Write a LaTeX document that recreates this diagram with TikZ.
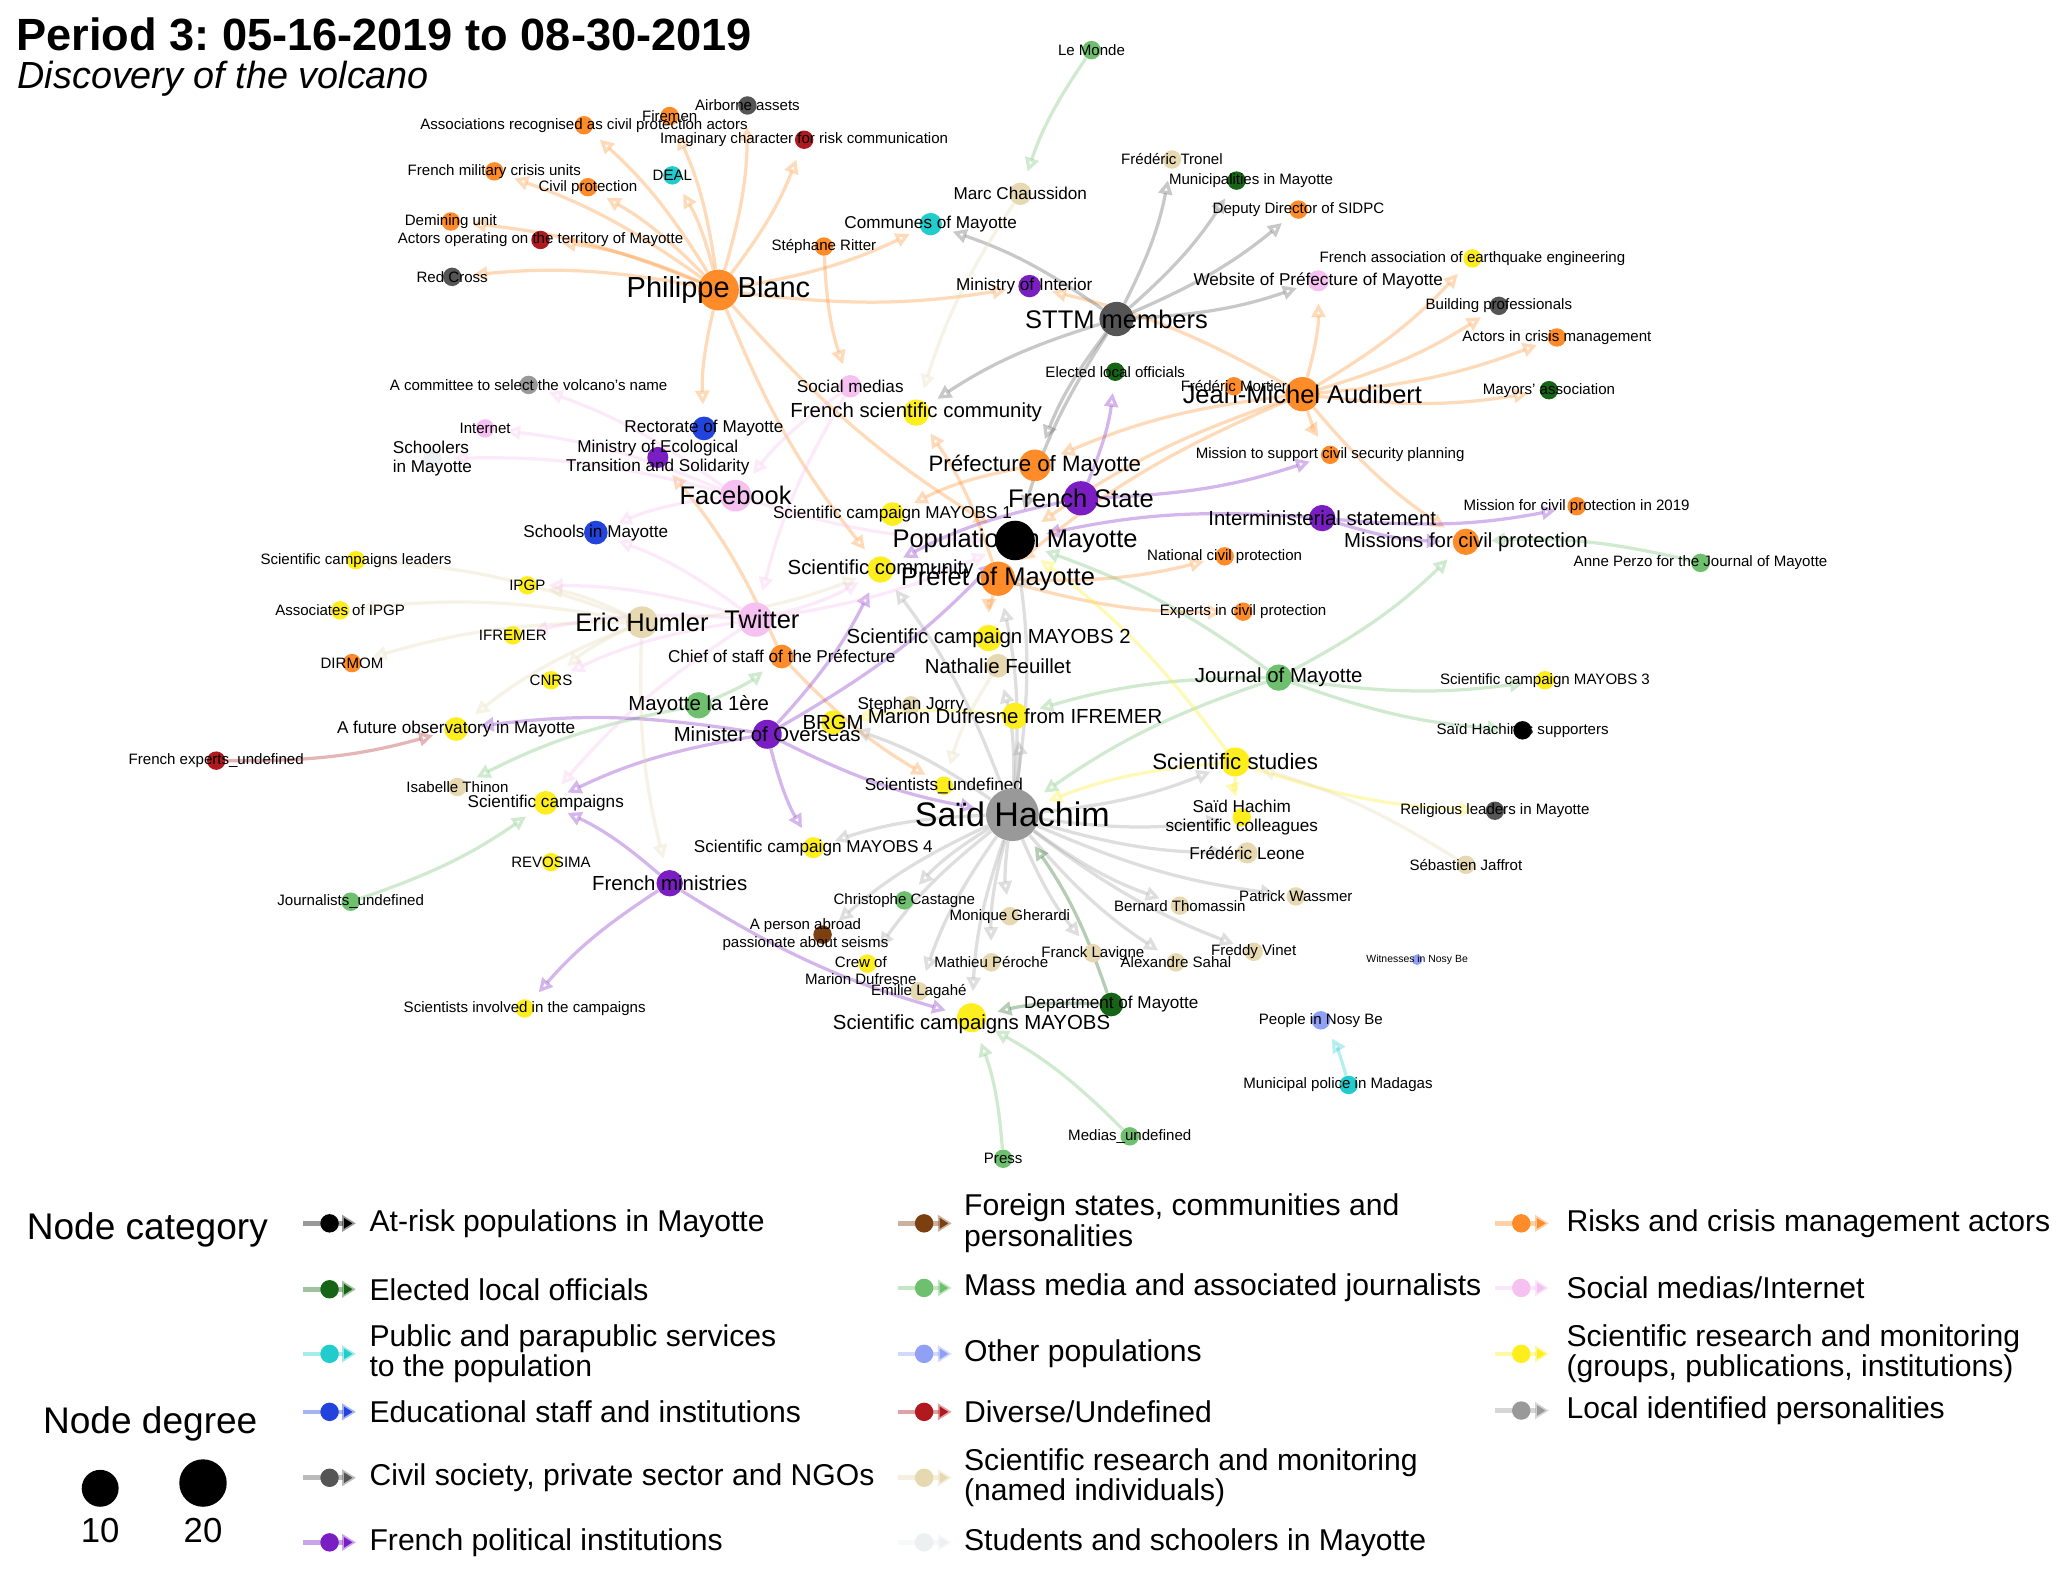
\documentclass[tikz,border=0pt]{standalone}
\usepackage{fontspec}
\setmainfont{Liberation Sans}
\usetikzlibrary{arrows.meta,backgrounds}
\frenchspacing

\definecolor{cblack}{RGB}{0,0,0}
\definecolor{celected}{RGB}{22,100,22}
\definecolor{cpublic}{RGB}{34,204,204}
\definecolor{cedu}{RGB}{34,68,221}
\definecolor{ccivil}{RGB}{85,85,85}
\definecolor{cpol}{RGB}{122,30,196}
\definecolor{cforeign}{RGB}{123,63,16}
\definecolor{cmedia}{RGB}{110,192,110}
\definecolor{cother}{RGB}{143,160,245}
\definecolor{cdiverse}{RGB}{176,26,30}
\definecolor{cscinamed}{RGB}{230,216,176}
\definecolor{cstudent}{RGB}{236,240,240}
\definecolor{crisk}{RGB}{255,140,40}
\definecolor{csocial}{RGB}{246,192,240}
\definecolor{cscigroup}{RGB}{255,238,30}
\definecolor{clocal}{RGB}{153,153,153}

\tikzset{
  nd/.style={circle, fill=#1, draw=none, inner sep=0pt, minimum size=2.8mm},
  ed/.style={draw=#1, draw opacity=0.32, line width=1.4pt, shorten >=5pt, bend right=8,
    -{Triangle[open, length=6pt, width=6pt]}},
  keyln/.style={draw=#1, draw opacity=0.4, line width=2pt, -{Triangle[length=6pt, width=7pt]}},
  lbtiny/.style={inner sep=0pt, font=\fontsize{4.5}{5}\selectfont},
  lbs/.style={inner sep=0pt, font=\fontsize{6.5}{7.4}\selectfont},
  lbsm/.style={inner sep=0pt, font=\fontsize{7.4}{8.2}\selectfont},
  lbm/.style={inner sep=0pt, font=\fontsize{8.8}{9.6}\selectfont},
  lbmm/.style={inner sep=0pt, font=\fontsize{9.6}{10.4}\selectfont},
  lbl/.style={inner sep=0pt, font=\fontsize{11}{12}\selectfont},
  lbxl/.style={inner sep=0pt, font=\fontsize{12.5}{13.5}\selectfont},
  lbxxl/.style={inner sep=0pt, font=\fontsize{14.7}{15.5}\selectfont},
  lgtxt/.style={anchor=west, inner sep=0pt, align=left, font=\fontsize{13}{11.5}\selectfont},
  lghead/.style={inner sep=0pt, font=\fontsize{16}{18}\selectfont}
}

\begin{document}
\begin{tikzpicture}[x=0.2mm, y=-0.2mm]
\useasboundingbox (0,0) rectangle (1568,1196);

% title
\node[anchor=base west, inner sep=0pt, font=\fontsize{19.5}{22}\selectfont\bfseries] (title) at (12,38) {Period 3: 05-16-2019 to 08-30-2019};
\node[anchor=base west, inner sep=0pt, font=\fontsize{16.3}{19}\selectfont\itshape] (subtitle) at (13,67) {Discovery of the volcano};

% Philippe Blanc and his neighbours
\node[nd=crisk, minimum size=6.2mm, label={[lbxl]center:Philippe Blanc}] (pb) at (545,220) {};
\node[nd=crisk, label={[lbs]center:Firemen}] (firemen) at (508,88) {};
\node[nd=ccivil, label={[lbs]center:Airborne assets}] (airborne) at (567,80) {};
\node[nd=crisk, label={[lbs]center:Associations recognised as civil protection actors}] (assoc) at (443,95) {};
\node[nd=cdiverse, label={[lbs]center:Imaginary character for risk communication}] (imag) at (610,106) {};
\node[nd=crisk, label={[lbs]center:French military crisis units}] (milit) at (375,130) {};
\node[nd=cpublic, label={[lbs]center:DEAL}] (deal) at (510,133) {};
\node[nd=crisk, label={[lbs]center:Civil protection}] (civprot) at (446,142) {};
\node[nd=crisk, label={[lbs]center:Demining unit}] (demin) at (342,168) {};
\node[nd=cdiverse, label={[lbs]center:Actors operating on the territory of Mayotte}] (actors) at (410,182) {};
\node[nd=ccivil, label={[lbs]center:Red Cross}] (redcross) at (343,210) {};
\node[nd=crisk, label={[lbs]center:Stéphane Ritter}] (ritter) at (625,187) {};
\node[nd=cpublic, minimum size=3.4mm, label={[lbsm]center:Communes of Mayotte}] (communes) at (706,170) {};
\node[nd=cscinamed, minimum size=3.4mm, label={[lbsm]center:Marc Chaussidon}] (chauss) at (774,147) {};
\node[nd=cmedia, label={[lbs]center:Le Monde}] (lemonde) at (828,38) {};
\node[nd=cpol, minimum size=3.4mm, label={[lbsm,xshift=-0.8mm]center:Ministry of Interior}] (mininter) at (781,217) {};

% STTM members and Jean-Michel Audibert
\node[nd=ccivil, minimum size=5.2mm, label={[lbl]center:STTM members}] (sttm) at (847,242) {};
\node[nd=cscinamed, label={[lbs]center:Frédéric Tronel}] (tronel) at (889,121) {};
\node[nd=celected, label={[lbs,xshift=2.2mm]center:Municipalities in Mayotte}] (munic) at (938,137) {};
\node[nd=crisk, label={[lbs]center:Deputy Director of SIDPC}] (deputy) at (985,159) {};
\node[nd=cscigroup, label={[lbs]center:French association of earthquake engineering}] (afps) at (1117,196) {};
\node[nd=csocial, minimum size=3.2mm, label={[lbsm]center:Website of Préfecture of Mayotte}] (website) at (1000,213) {};
\node[nd=ccivil, label={[lbs]center:Building professionals}] (building) at (1137,232) {};
\node[nd=crisk, label={[lbs]center:Actors in crisis management}] (actcrisis) at (1181,256) {};
\node[nd=celected, label={[lbs]center:Mayors' association}] (mayors) at (1175,296) {};
\node[nd=crisk, minimum size=5.2mm, label={[lbl]center:Jean-Michel Audibert}] (jma) at (988,299) {};
\node[nd=crisk, label={[lbs]center:Frédéric Mortier}] (mortier) at (936,293) {};
\node[nd=celected, label={[lbs]center:Elected local officials}] (elected) at (846,282) {};

% upper centre
\node[nd=csocial, minimum size=3.4mm, label={[lbsm]center:Social medias}] (socmed) at (645,293) {};
\node[nd=clocal, label={[lbs]center:A committee to select the volcano's name}] (committee) at (401,292) {};
\node[nd=cscigroup, minimum size=4mm, label={[lbm]center:French scientific community}] (frscicom) at (695,313) {};
\node[nd=cedu, minimum size=3.6mm, label={[lbsm]center:Rectorate of Mayotte}] (rectorate) at (534,325) {};
\node[nd=csocial, label={[lbs]center:Internet}] (internet) at (368,325) {};
\node[nd=cpol, minimum size=3.2mm, label={[lbsm,align=center]center:Ministry of Ecological\\Transition and Solidarity}] (mineco) at (499,347) {};
\node[nd=cstudent, label={[lbsm,align=left]center:Schoolers\\in Mayotte}] (schoolers) at (328,348) {};
\node[nd=csocial, minimum size=4.8mm, label={[lbl]center:Facebook}] (facebook) at (558,376) {};
\node[nd=cedu, minimum size=3.6mm, label={[lbsm]center:Schools in Mayotte}] (schools) at (452,404) {};
\node[nd=cscigroup, minimum size=3.6mm, label={[lbsm]center:Scientific campaign MAYOBS 1}] (mayobs1) at (677,390) {};
\node[nd=cpol, minimum size=5.2mm, label={[lbl]center:French State}] (frstate) at (820,378) {};
\node[nd=crisk, minimum size=4.8mm, label={[lbmm]center:Préfecture of Mayotte}] (prefecture) at (785,353) {};
\node[nd=cblack, minimum size=6mm, label={[lbl]center:Population in Mayotte}] (popmay) at (770,410) {};
\node[nd=cpol, minimum size=4mm, label={[lbm]center:Interministerial statement}] (interm) at (1003,393) {};
\node[nd=crisk, label={[lbs]center:Mission to support civil security planning}] (missupport) at (1009,345) {};
\node[nd=crisk, label={[lbs]center:Mission for civil protection in 2019}] (miss2019) at (1196,384) {};
\node[nd=crisk, minimum size=4mm, label={[lbm]center:Missions for civil protection}] (missions) at (1112,411) {};
\node[nd=cmedia, label={[lbs]center:Anne Perzo for the Journal of Mayotte}] (perzo) at (1290,427) {};
\node[nd=crisk, label={[lbs]center:National civil protection}] (natcivprot) at (929,422) {};
\node[nd=crisk, label={[lbs]center:Experts in civil protection}] (experts) at (943,464) {};
\node[nd=crisk, minimum size=5.2mm, label={[lbl]center:Préfet of Mayotte}] (prefet) at (757,439) {};
\node[nd=cscigroup, minimum size=4mm, label={[lbm]center:Scientific community}] (scicom) at (668,432) {};

% left side
\node[nd=cscigroup, label={[lbs]center:Scientific campaigns leaders}] (scileaders) at (270,425) {};
\node[nd=cscigroup, label={[lbs]center:IPGP}] (ipgp) at (400,444) {};
\node[nd=cscigroup, label={[lbs]center:Associates of IPGP}] (associpgp) at (258,463) {};
\node[nd=cscinamed, minimum size=4.8mm, label={[lbl]center:Eric Humler}] (humler) at (487,472) {};
\node[nd=csocial, minimum size=5.2mm, label={[lbl,xshift=1mm]center:Twitter}] (twitter) at (573,470) {};
\node[nd=cscigroup, label={[lbs]center:IFREMER}] (ifremer) at (389,482) {};
\node[nd=crisk, label={[lbs]center:DIRMOM}] (dirmom) at (267,503) {};
\node[nd=cscigroup, label={[lbs]center:CNRS}] (cnrs) at (418,516) {};
\node[nd=crisk, minimum size=3.6mm, label={[lbsm]center:Chief of staff of the Préfecture}] (chief) at (593,498) {};
\node[nd=cscigroup, minimum size=3.6mm, label={[lbsm]center:A future observatory in Mayotte}] (futobs) at (346,553) {};
\node[nd=cdiverse, label={[lbs]center:French experts\_undefined}] (frexp) at (164,577) {};
\node[nd=cscinamed, label={[lbs]center:Isabelle Thinon}] (thinon) at (347,597) {};
\node[nd=cscigroup, minimum size=3.6mm, label={[lbsm]center:Scientific campaigns}] (scicamps) at (414,609) {};
\node[nd=cscigroup, label={[lbs]center:REVOSIMA}] (revosima) at (418,654) {};
\node[nd=cpol, minimum size=4mm, label={[lbm]center:French ministries}] (frmin) at (508,670) {};
\node[nd=cmedia, label={[lbs]center:Journalists\_undefined}] (journalists) at (266,684) {};
\node[nd=cscigroup, label={[lbs]center:Scientists involved in the campaigns}] (involved) at (398,765) {};

% centre
\node[nd=cscigroup, minimum size=4mm, label={[lbm]center:Scientific campaign MAYOBS 2}] (mayobs2) at (750,484) {};
\node[nd=cscinamed, minimum size=3.6mm, label={[lbm]center:Nathalie Feuillet}] (feuillet) at (757,505) {};
\node[nd=cmedia, minimum size=4mm, label={[lbm]center:Journal of Mayotte}] (journal) at (970,514) {};
\node[nd=cscigroup, label={[lbs]center:Scientific campaign MAYOBS 3}] (mayobs3) at (1172,516) {};
\node[nd=cblack, label={[lbs]center:Saïd Hachim's supporters}] (supporters) at (1155,554) {};
\node[nd=cmedia, minimum size=4mm, label={[lbm]center:Mayotte la 1ère}] (la1ere) at (530,535) {};
\node[nd=cpol, minimum size=4.4mm, label={[lbm]center:Minister of Overseas}] (minover) at (582,557) {};
\node[nd=cscinamed, label={[lbsm]center:Stephan Jorry}] (jorry) at (691,535) {};
\node[nd=cscigroup, minimum size=3.6mm, label={[lbm]center:BRGM}] (brgm) at (632,548) {};
\node[nd=cscigroup, minimum size=4mm, label={[lbm]center:Marion Dufresne from IFREMER}] (mdfi) at (770,543) {};
\node[nd=cscigroup, minimum size=4.4mm, label={[lbmm]center:Scientific studies}] (scistudies) at (937,578) {};
\node[nd=cscigroup, label={[lbsm]center:Scientists\_undefined}] (sciundef) at (716,596) {};
\node[nd=ccivil, label={[lbs]center:Religious leaders in Mayotte}] (religious) at (1134,615) {};
\node[nd=cscinamed, label={[lbs]center:Sébastien Jaffrot}] (jaffrot) at (1112,656) {};

% Said Hachim and his neighbours
\node[nd=clocal, minimum size=8mm, label={[lbxxl]center:Saïd Hachim}] (hachim) at (768,618) {};
\node[nd=cscigroup, label={[lbsm,align=center]center:Saïd Hachim\\scientific colleagues}] (colleagues) at (942,620) {};
\node[nd=cscigroup, minimum size=3.2mm, label={[lbsm]center:Scientific campaign MAYOBS 4}] (mayobs4) at (617,643) {};
\node[nd=cscinamed, minimum size=3.2mm, label={[lbsm]center:Frédéric Leone}] (leone) at (946,647) {};
\node[nd=cscinamed, label={[lbs]center:Patrick Wassmer}] (wassmer) at (983,680) {};
\node[nd=cscinamed, label={[lbs]center:Bernard Thomassin}] (thomassin) at (895,687) {};
\node[nd=cmedia, label={[lbs]center:Christophe Castagne}] (castagne) at (686,683) {};
\node[nd=cscinamed, label={[lbs]center:Monique Gherardi}] (gherardi) at (766,695) {};
\node[nd=cforeign, label={[lbs,align=center,xshift=-2.6mm]center:A person abroad\\passionate about seisms}] (person) at (624,709) {};
\node[nd=cscinamed, label={[lbs]center:Franck Lavigne}] (lavigne) at (829,723) {};
\node[nd=cscinamed, label={[lbs]center:Alexandre Sahal}] (sahal) at (892,730) {};
\node[nd=cscinamed, label={[lbs]center:Freddy Vinet}] (vinet) at (951,722) {};
\node[nd=cother, minimum size=1.6mm, label={[lbtiny]center:Witnesses in Nosy Be}] (witnesses) at (1075,728) {};
\node[nd=cscigroup, label={[lbs,align=center,xshift=-1mm,yshift=-1mm]center:Crew of\\Marion Dufresne}] (crew) at (658,731) {};
\node[nd=cscinamed, label={[lbs]center:Mathieu Péroche}] (peroche) at (752,730) {};
\node[nd=cscinamed, label={[lbs]center:Emilie Lagahé}] (lagahe) at (697,752) {};
\node[nd=celected, minimum size=3.6mm, label={[lbsm]center:Department of Mayotte}] (deptmay) at (843,762) {};
\node[nd=cscigroup, minimum size=4.4mm, label={[lbm,yshift=-1mm]center:Scientific campaigns MAYOBS}] (mayobs) at (737,772) {};
\node[nd=cother, label={[lbs]center:People in Nosy Be}] (nosybe) at (1002,774) {};
\node[nd=cpublic, label={[lbs,xshift=-1.6mm]center:Municipal police in Madagas}] (police) at (1023,823) {};
\node[nd=cmedia, label={[lbs]center:Medias\_undefined}] (mediasund) at (857,862) {};
\node[nd=cmedia, label={[lbs]center:Press}] (press) at (761,879) {};

% edges
\begin{scope}[on background layer]
\fill[white] (0,0) rectangle (1568,1196);
% risk actors
\foreach \tg in {assoc,firemen,airborne,imag,milit,civprot,deal,demin,actors,redcross,communes,mininter,rectorate,scicom,popmay}
  \draw[ed=crisk] (pb) to (\tg);
\draw[ed=crisk] (ritter) to (socmed);
\foreach \tg in {website,afps,building,actcrisis,mayors,mininter,prefecture,popmay,prefet,missions,missupport}
  \draw[ed=crisk] (jma) to (\tg);
\foreach \tg in {natcivprot,experts,mayobs2,frscicom}
  \draw[ed=crisk] (prefet) to (\tg);
\draw[ed=crisk] (prefecture) to (mayobs1);
\draw[ed=crisk] (chief) to (mineco);
\draw[ed=crisk] (chief) to (sciundef);
% STTM members
\foreach \tg in {tronel,munic,deputy,website,communes,frscicom,popmay,prefecture}
  \draw[ed=ccivil] (sttm) to (\tg);
% Said Hachim
\foreach \tg in {mayobs4,castagne,person,crew,lagahe,peroche,mayobs,gherardi,lavigne,sahal,vinet,thomassin,wassmer,leone,colleagues,scistudies,prefet,popmay,scicom,brgm,mdfi,feuillet}
  \draw[ed=clocal] (hachim) to (\tg);
% media
\draw[ed=cmedia] (lemonde) to (chauss);
\foreach \tg in {missions,popmay,mayobs3,supporters,mdfi,hachim}
  \draw[ed=cmedia] (journal) to (\tg);
\draw[ed=cmedia] (perzo) to (missions);
\draw[ed=cmedia] (la1ere) to (thinon);
\draw[ed=cmedia] (la1ere) to (chief);
\draw[ed=cmedia] (journalists) to (scicamps);
\draw[ed=cmedia] (mediasund) to (mayobs);
\draw[ed=cmedia] (press) to (mayobs);
\draw[ed=celected] (deptmay) to (hachim);
\draw[ed=celected] (deptmay) to (mayobs);
% political institutions
\foreach \tg in {missupport,elected,scicom}
  \draw[ed=cpol] (frstate) to (\tg);
\foreach \tg in {popmay,missions,miss2019}
  \draw[ed=cpol] (interm) to (\tg);
\foreach \tg in {futobs,scicom,mayobs4,hachim,scicamps,popmay}
  \draw[ed=cpol] (minover) to (\tg);
\foreach \tg in {scicamps,involved,mayobs}
  \draw[ed=cpol] (frmin) to (\tg);
% science
\foreach \tg in {religious,popmay,hachim,colleagues}
  \draw[ed=cscigroup] (scistudies) to (\tg);
\draw[ed=cscigroup] (mdfi) to (brgm);
\foreach \tg in {scileaders,associpgp,ipgp,dirmom,cnrs,futobs,frmin,scicom}
  \draw[ed=cscinamed] (humler) to (\tg);
\draw[ed=cscinamed] (chauss) to (frscicom);
\draw[ed=cscinamed] (jaffrot) to (scistudies);
\draw[ed=cscinamed] (feuillet) to (sciundef);
% social medias
\foreach \tg in {committee,internet,schoolers,schools,popmay}
  \draw[ed=csocial] (facebook) to (\tg);
\foreach \tg in {schools,ipgp,ifremer,scicamps,cnrs,popmay,scicom}
  \draw[ed=csocial] (twitter) to (\tg);
\draw[ed=csocial] (socmed) to (facebook);
\draw[ed=csocial] (socmed) to (twitter);
% others
\draw[ed=cpublic] (police) to (nosybe);
\draw[ed=cdiverse] (frexp) to (futobs);
\end{scope}

% legend
\node[lghead, anchor=west] (nodecat) at (20,933) {Node category};
\node[lghead] (nodedeg) at (114,1080) {Node degree};
\node[nd=black, minimum size=5.6mm] (deg10) at (76,1129) {};
\node[nd=black, minimum size=7.2mm] (deg20) at (154,1125) {};
\node[lghead, font=\fontsize{15}{17}\selectfont] (lab10) at (76,1161) {10};
\node[lghead, font=\fontsize{15}{17}\selectfont] (lab20) at (154,1161) {20};

\foreach \c/\yy/\txt [count=\i] in {cblack/928/At-risk populations in Mayotte, celected/978/Elected local officials, {cpublic/1027/Public and parapublic services\\to the population}, cedu/1071/Educational staff and institutions, {ccivil/1121/Civil society, private sector and NGOs}, cpol/1170/French political institutions}{
  \coordinate (ka\i) at (230,\yy);
  \coordinate (kb\i) at (270,\yy);
  \draw[keyln=\c] (ka\i) -- (kb\i);
  \node[nd=\c] (kd\i) at (250,\yy) {};
  \node[lgtxt] (kt\i) at (280,\yy) {\txt};
}
\foreach \c/\yy/\txt [count=\i] in {{cforeign/928/Foreign states, communities and\\personalities}, cmedia/977/Mass media and associated journalists, cother/1027/Other populations, {cdiverse/1071/{Diverse/Undefined}}, {cscinamed/1121/Scientific research and monitoring\\(named individuals)}, cstudent/1170/Students and schoolers in Mayotte}{
  \coordinate (la\i) at (681,\yy);
  \coordinate (lb\i) at (722,\yy);
  \draw[keyln=\c] (la\i) -- (lb\i);
  \node[nd=\c] (ld\i) at (701,\yy) {};
  \node[lgtxt] (lt\i) at (731,\yy) {\txt};
}
\foreach \c/\yy/\txt [count=\i] in {crisk/928/Risks and crisis management actors, {csocial/977/{Social medias/Internet}}, {cscigroup/1027/Scientific research and monitoring\\(groups, publications, institutions)}, clocal/1070/Local identified personalities}{
  \coordinate (ma\i) at (1134,\yy);
  \coordinate (mb\i) at (1175,\yy);
  \draw[keyln=\c] (ma\i) -- (mb\i);
  \node[nd=\c] (md\i) at (1154,\yy) {};
  \node[lgtxt] (mt\i) at (1188,\yy) {\txt};
}

\end{tikzpicture}
\end{document}
